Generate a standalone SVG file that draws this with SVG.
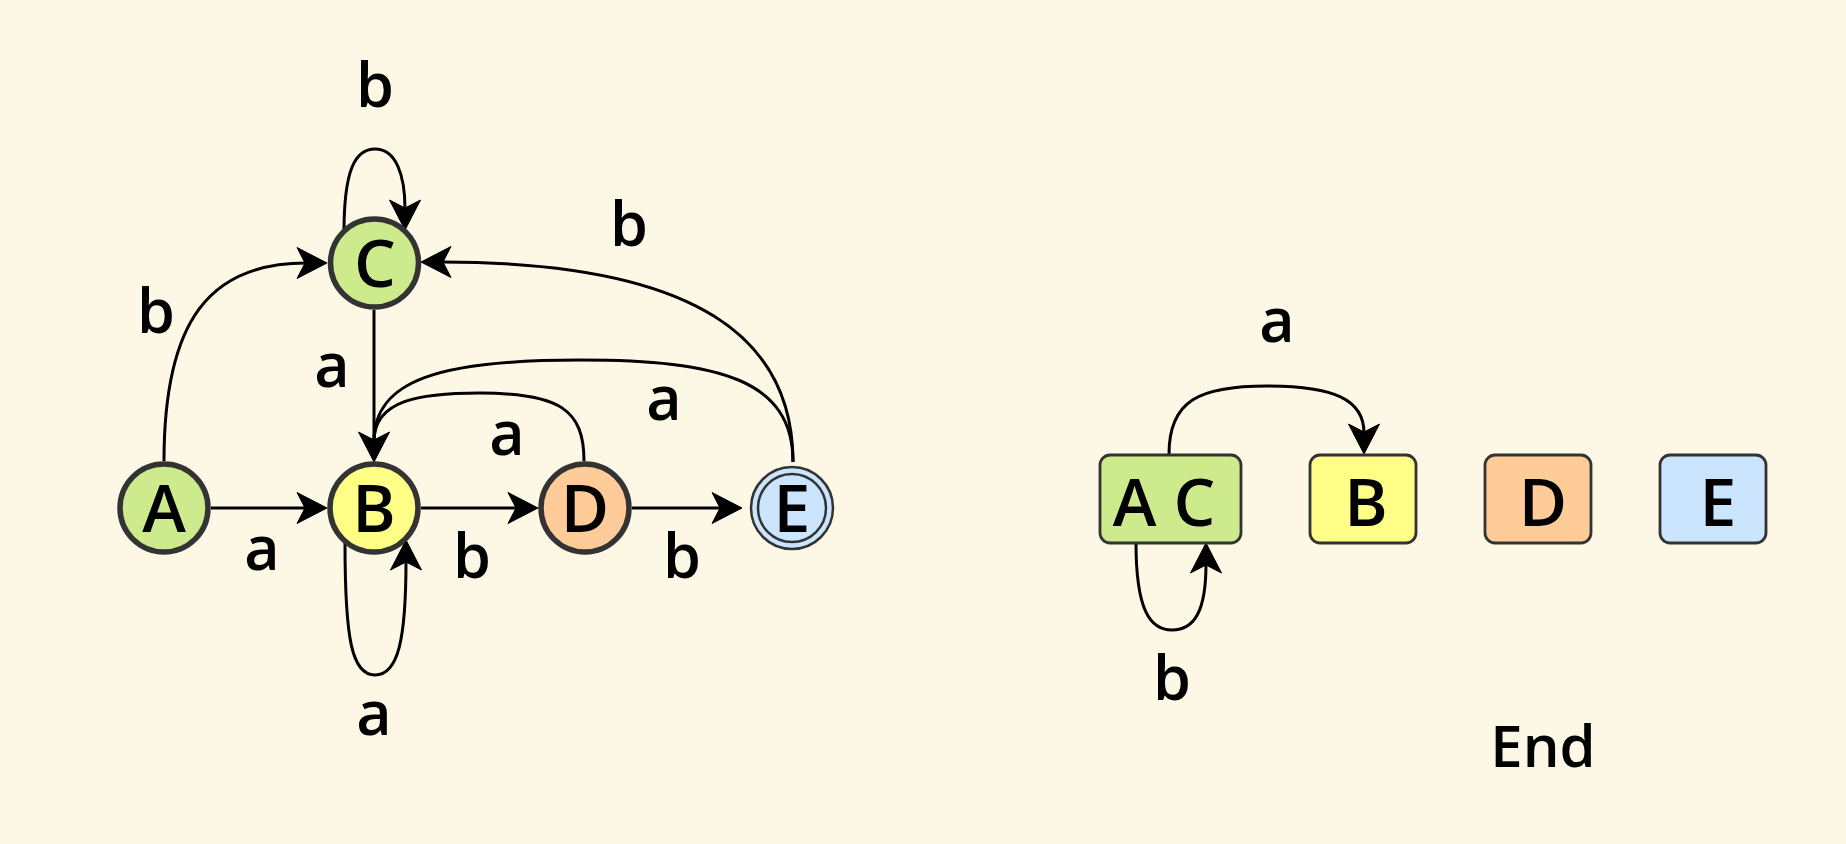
<svg xmlns="http://www.w3.org/2000/svg" width="1846" height="844" viewBox="0 0 1846 844">
<style>
.bg{fill:#fdf7e6}
.st{stroke:#333;stroke-width:5.5}
.fin{stroke:#333;stroke-width:2.5}
.box{stroke:#333;stroke-width:2.8}
.g{fill:#cdea8c}
.y{fill:#ffff88}
.o{fill:#ffcc99}
.b{fill:#cce5ff}
.e{fill:none;stroke:#000;stroke-width:3}
.ah{fill:#000;stroke:#000;stroke-width:1;stroke-linejoin:miter}
text{font-family:"Open Sans","Liberation Sans",sans-serif;font-weight:600;fill:#000;text-anchor:middle}
.nt{font-size:66px}
.lt{font-size:61px}
.end{font-size:58px}
</style>
<rect class="bg" x="0" y="0" width="1846" height="844"/>
<g id="connectors">
<path id="e-AB" class="e" d="M211,508 L306,508"/>
<polygon class="ah" points="327,508 297,492.5 305,508 297,523.5"/>
<path id="e-BD" class="e" d="M421,508 L517,508"/>
<polygon class="ah" points="538,508 508,492.5 516,508 508,523.5"/>
<path id="e-DE" class="e" d="M632,508 L721,508"/>
<polygon class="ah" points="742,508 712,492.5 720,508 712,523.5"/>
<path id="e-AC" class="e" d="M164,461 C164,320 210,263 306,263"/>
<polygon class="ah" points="327,263 297,247.5 305,263 297,278.5"/>
<path id="e-CC" class="e" d="M344,232 C344,170 355,149 375,149 C396,149 405,175 405,209"/>
<polygon class="ah" points="405,230 389.5,200 405,208 420.5,200"/>
<path id="e-CB" class="e" d="M374,310 L374,441"/>
<polygon class="ah" points="374,462 358.5,432 374,440 389.5,432"/>
<path id="e-DB" class="e" d="M584,461 C584,410 560,393 480,393 C420,393 374,400 374,441"/>
<path id="e-EB" class="e" d="M793,462 C793,380 720,360 580,360 C440,360 374,380 374,441"/>
<path id="e-EC" class="e" d="M793,462 C793,340 700,262 442,262"/>
<polygon class="ah" points="421,262 451,246.5 443,262 451,277.5"/>
<path id="e-BB" class="e" d="M345,543 C345,640 352,675 375,675 C398,675 406,640 406,561"/>
<polygon class="ah" points="406,540 390.5,570 406,562 421.5,570"/>
<path id="e-ACB" class="e" d="M1169,454 C1169,400 1200,386 1267,386 C1335,386 1364,400 1364,433"/>
<polygon class="ah" points="1364,454 1348.5,424 1364,432 1379.5,424"/>
<path id="e-ACAC" class="e" d="M1136,543 C1136,610 1150,630 1172,630 C1195,630 1206,610 1206,564"/>
<polygon class="ah" points="1206,543 1190.5,573 1206,565 1221.5,573"/>
<g id="edge-labels" class="lt">
<text x="375" y="107">b</text>
<text x="156" y="333">b</text>
<text x="629" y="246">b</text>
<text x="332" y="387">a</text>
<text x="507" y="455">a</text>
<text x="664" y="420">a</text>
<text x="262" y="570">a</text>
<text x="472" y="578">b</text>
<text x="682" y="578">b</text>
<text x="374" y="735">a</text>
<text x="1277" y="342">a</text>
<text x="1172" y="700">b</text>
</g>
</g>
<g id="node-A"><circle class="g st" cx="164" cy="508" r="44"/><text class="nt" x="164" y="532">A</text></g>
<g id="node-B"><circle class="y st" cx="374" cy="508" r="44"/><text class="nt" x="374" y="532">B</text></g>
<g id="node-C"><circle class="g st" cx="374.5" cy="263" r="44"/><text class="nt" x="375" y="287">C</text></g>
<g id="node-D"><circle class="o st" cx="585" cy="508" r="44"/><text class="nt" x="585" y="532">D</text></g>
<g id="node-E"><circle class="b fin" cx="792" cy="508" r="41"/><circle class="fin" fill="none" cx="792" cy="508" r="34"/><text class="nt" x="792" y="532">E</text></g>
<g id="node-AC"><rect class="g box" x="1100" y="455" width="141" height="88" rx="10"/><text class="nt" x="1164" y="526">A C</text></g>
<g id="node-B2"><rect class="y box" x="1310" y="455" width="106" height="88" rx="10"/><text class="nt" x="1366" y="526">B</text></g>
<g id="node-D2"><rect class="o box" x="1485" y="455" width="106" height="88" rx="10"/><text class="nt" x="1543" y="526">D</text></g>
<g id="node-E2"><rect class="b box" x="1660" y="455" width="106" height="88" rx="10"/><text class="nt" x="1718" y="526">E</text></g>
<g id="label-end"><text class="end" x="1543" y="767">End</text></g>
</svg>
